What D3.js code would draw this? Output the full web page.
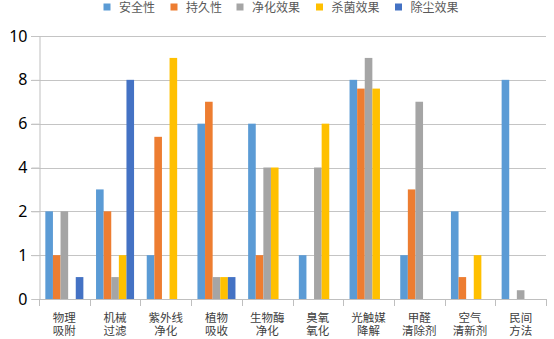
<!DOCTYPE html>
<html>
<head>
<meta charset="utf-8">
<script src="https://cdn.jsdelivr.net/npm/d3@7"></script>
<style>
  html, body { margin: 0; padding: 0; background: #fff; }
  svg { display: block; font-family: "Noto Sans CJK SC", "Noto Sans", sans-serif; }
</style>
</head>
<body>
<svg id="chart" width="554" height="339"></svg>
<script>
// Purification methods (two-line labels)
const categories = [
  ["物理", "吸附"], ["机械", "过滤"], ["紫外线", "净化"], ["植物", "吸收"], ["生物酶", "净化"],
  ["臭氧", "氧化"], ["光触媒", "降解"], ["甲醛", "清除剂"], ["空气", "清新剂"], ["民间", "方法"]
];
const seriesNames = ["安全性", "持久性", "净化效果", "杀菌效果", "除尘效果"];
const seriesColors = ["#5B9BD5", "#ED7D31", "#A5A5A5", "#FFC000", "#4472C4"];

// Scores per series, one entry per method
const safety      = [2, 3, 1, 6, 6, 1, 8, 1, 2, 8];
const durability  = [1, 2, 5.4, 7, 1, 0, 7.6, 3, 0.5, 0];
const purifying   = [2, 0.5, 0, 0.5, 4, 4, 9, 7, 0, 0.2];
const sterilizing = [0, 1, 9, 0.5, 4, 6, 7.6, 0, 1, 0];
const dustRemoval = [0.5, 8, 0, 0.5, 0, 0, 0, 0, 0, 0];
const seriesValues = [safety, durability, purifying, sterilizing, dustRemoval];

// Axis tick values (evenly spaced on the axis)
const yTicks = [0, 1, 2, 4, 6, 8, 10];

const svg = d3.select("#chart");
const plotLeft = 39, plotRight = 546, plotTop = 36, plotBottom = 299;

const x0 = d3.scaleBand().domain(d3.range(categories.length))
  .range([plotLeft, plotRight]).paddingInner(0.25).paddingOuter(0.125);
const x1 = d3.scaleBand().domain(d3.range(seriesNames.length))
  .range([0, x0.bandwidth()]);
const y = d3.scaleLinear().domain(yTicks)
  .range(yTicks.map((d, i) => plotBottom - (plotBottom - plotTop) * i / (yTicks.length - 1)));

// Gridlines
svg.append("g").selectAll("line").data(yTicks.slice(1)).join("line")
  .attr("x1", plotLeft - 8).attr("x2", plotRight)
  .attr("y1", d => Math.round(y(d)) + 0.5).attr("y2", d => Math.round(y(d)) + 0.5)
  .attr("stroke", "#c4c4c4").attr("stroke-width", 1);

// Y axis
const yAxis = svg.append("g").attr("transform", `translate(${plotLeft + 0.5},0)`)
  .call(d3.axisLeft(y).tickValues(yTicks).tickFormat(d3.format("d")).tickSize(8).tickPadding(4));
yAxis.select(".domain").attr("stroke", "#bfbfbf");
yAxis.selectAll(".tick line").attr("stroke", "#c4c4c4");
yAxis.selectAll(".tick text").attr("font-size", 16).attr("fill", "#000")
  .attr("font-family", "'Noto Sans', 'Noto Sans CJK SC', sans-serif");

// Bars
const groups = svg.append("g").selectAll("g").data(categories).join("g")
  .attr("transform", (d, i) => `translate(${x0(i)},0)`);
groups.selectAll("rect")
  .data((d, i) => seriesValues.map((vals, s) => ({ s, v: vals[i] })))
  .join("rect")
  .attr("x", d => x1(d.s))
  .attr("width", x1.bandwidth())
  .attr("y", d => y(d.v))
  .attr("height", d => y(0) - y(d.v))
  .attr("fill", d => seriesColors[d.s]);

// X axis with boundary ticks
const xg = svg.append("g");
xg.append("line").attr("x1", plotLeft).attr("x2", plotRight)
  .attr("y1", plotBottom + 0.5).attr("y2", plotBottom + 0.5).attr("stroke", "#bfbfbf");
const step = x0.step();
xg.selectAll("line.tk").data(d3.range(categories.length + 1)).join("line")
  .attr("class", "tk")
  .attr("x1", i => Math.round(plotLeft + i * step) + 0.5).attr("x2", i => Math.round(plotLeft + i * step) + 0.5)
  .attr("y1", plotBottom).attr("y2", plotBottom + 7).attr("stroke", "#bfbfbf");

// Category labels, one text per line
const labelG = svg.append("g").selectAll("g").data(categories).join("g")
  .attr("transform", (d, i) => `translate(${x0(i) + x0.bandwidth() / 2},0)`);
labelG.selectAll("text").data(d => d).join("text")
  .attr("x", 0)
  .attr("y", (d, j) => 322 + j * 13)
  .attr("text-anchor", "middle").attr("font-size", 11.5).attr("fill", "#404040")
  .text(d => d);

// Legend
const legendX = [103.5, 170.5, 236.5, 316, 395];
const legend = svg.append("g").selectAll("g").data(seriesNames).join("g")
  .attr("transform", (d, i) => `translate(${legendX[i]},0)`);
legend.append("rect").attr("x", 0).attr("y", 3.5).attr("width", 7).attr("height", 7)
  .attr("fill", (d, i) => seriesColors[i]);
legend.append("text").attr("x", 15.5).attr("y", 12).attr("font-size", 12)
  .attr("fill", "#595959").text(d => d);
</script>
</body>
</html>
